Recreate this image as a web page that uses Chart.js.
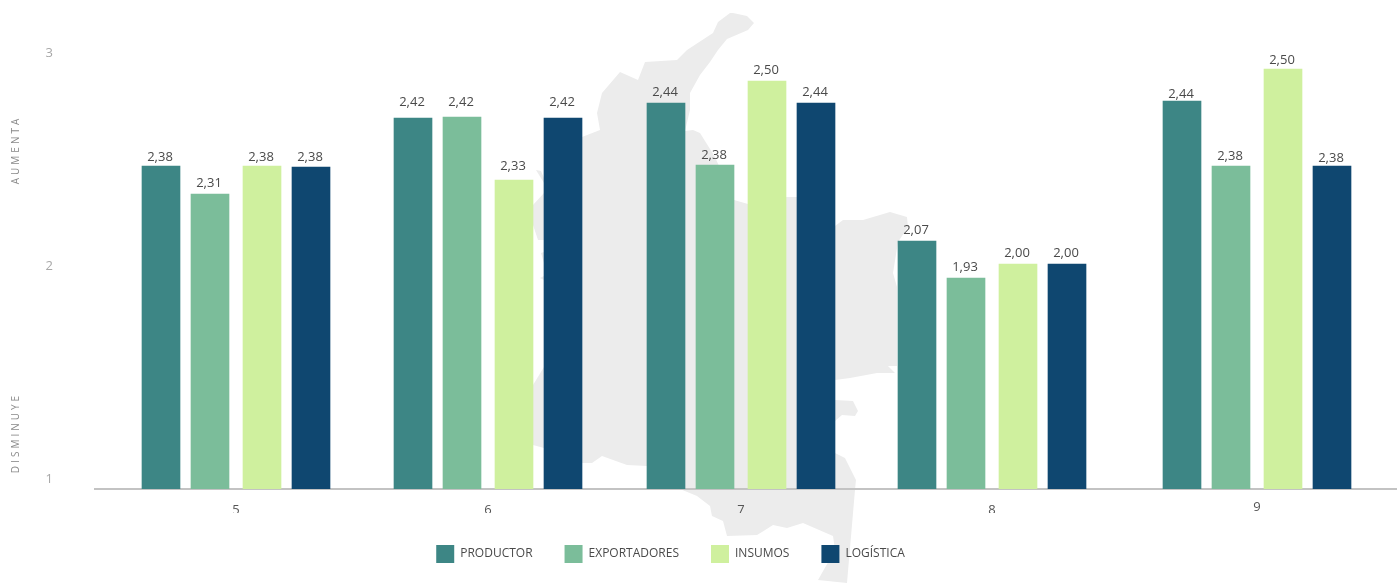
<!DOCTYPE html>
<html>
<head>
<meta charset="utf-8">
<title>Chart</title>
<script src="https://cdn.jsdelivr.net/npm/chart.js@4/dist/chart.umd.js"></script>
<style>
    body { margin: 0; background: #fff; }
    #wrap { position: relative; width: 1397px; height: 583px; overflow: hidden; }
    #map { position: absolute; left: 0; top: 0; width: 1397px; height: 583px; background: #ececec; }
    #chart { position: absolute; left: 0; top: 0; }
</style>
</head>
<body>
<div id="wrap">
    <div id="map"></div>
    <canvas id="chart" width="1397" height="583"></canvas>
</div>
<script>
var categories = ['5', '6', '7', '8', '9'];
var yTicks = [1, 2, 3];
var seriesNames = ['PRODUCTOR', 'EXPORTADORES', 'INSUMOS', 'LOGÍSTICA'];

// bar heights read against the y axis, they do not follow the printed labels
var productor = [2.4695, 2.6948, 2.7653, 2.1174, 2.7746];
var exportadores = [2.3380, 2.6995, 2.4742, 1.9437, 2.4695];
var insumos = [2.4695, 2.4038, 2.8685, 2.0094, 2.9249];
var logistica = [2.4648, 2.6948, 2.7653, 2.0094, 2.4695];

// printed labels
var productorLabels = ['2,38', '2,42', '2,44', '2,07', '2,44'];
var exportadoresLabels = ['2,31', '2,42', '2,38', '1,93', '2,38'];
var insumosLabels = ['2,38', '2,33', '2,50', '2,00', '2,50'];
var logisticaLabels = ['2,38', '2,42', '2,44', '2,00', '2,38'];

var seriesValues = [productor, exportadores, insumos, logistica];
var seriesLabels = [productorLabels, exportadoresLabels, insumosLabels, logisticaLabels];
var colors = ['#3d8685', '#7bbd9a', '#cff09e', '#0f4770'];

// layout only: groups are not evenly spaced in the original (one x unit is 252px)
var groupShift = [0, 0, 1 / 252, 0, 13 / 252];
var barShift = [-75 / 252, -26 / 252, 26 / 252, 75 / 252];
var labelLift = [
    [9, 16, 11, 11, 7],
    [11, 15, 10, 11, 10],
    [9, 14, 11, 11, 9],
    [10, 16, 11, 11, 8]
];

// background silhouette, purely decorative
var mapOutline = [
    [733, 13], [747, 16], [754, 23], [748, 30], [727, 39], [718, 50], [710, 62], [700, 75], [690, 93],
    [690, 110], [685, 131], [693, 130], [700, 133], [715, 157], [734, 200], [748, 204], [786, 197],
    [797, 197], [835, 226], [843, 220], [863, 220], [890, 212], [907, 217], [908, 227], [898, 242],
    [893, 273], [897, 287], [897, 366], [888, 366], [895, 373], [877, 373], [850, 378], [835, 380],
    [835, 400], [853, 401], [858, 411], [855, 416], [842, 415], [835, 421], [835, 453], [845, 458],
    [856, 480], [855, 490], [847, 583], [818, 580], [835, 550], [833, 536], [803, 523], [787, 528],
    [773, 525], [757, 535], [727, 536], [723, 521], [712, 516], [710, 506], [697, 496], [680, 489],
    [647, 466], [627, 465], [602, 456], [592, 463], [582, 463], [560, 450], [544, 448], [533, 445],
    [533, 385], [544, 367], [560, 360], [560, 285], [544, 280], [540, 278], [544, 276], [550, 270],
    [544, 263], [541, 253], [544, 252], [550, 245], [544, 240], [538, 240], [533, 225], [533, 205],
    [544, 193], [550, 185], [544, 183], [536, 170], [541, 171], [544, 178], [560, 160], [582, 137],
    [600, 130], [597, 113], [602, 93], [620, 72], [638, 80], [645, 62], [677, 60], [687, 50], [713, 33],
    [718, 22], [730, 13]
];
document.getElementById('map').style.clipPath = 'polygon(' + mapOutline.map(function(p) {
    return p[0] + 'px ' + p[1] + 'px';
}).join(',') + ')';

var fontName = '"Open Sans", sans-serif';
var groupX = categories.map(function(c, i) {
    return Number(c) + groupShift[i];
});

var datasets = seriesNames.map(function(name, s) {
    return {
        label: name,
        backgroundColor: colors[s],
        borderWidth: 0,
        barThickness: 38,
        grouped: false,
        data: seriesValues[s].map(function(v, i) {
            return { x: groupX[i] + barShift[s], y: v };
        })
    };
});

var barLabels = {
    id: 'barLabels',
    afterDatasetsDraw: function(chart) {
        var ctx = chart.ctx;
        ctx.save();
        ctx.font = '13px ' + fontName;
        ctx.fillStyle = '#4a4a4a';
        ctx.textAlign = 'center';
        ctx.textBaseline = 'middle';
        seriesLabels.forEach(function(labels, s) {
            chart.getDatasetMeta(s).data.forEach(function(bar, i) {
                ctx.fillText(labels[i], bar.x - 1, bar.y - labelLift[s][i]);
            });
        });
        ctx.restore();
    }
};

var sideTitles = {
    id: 'sideTitles',
    afterDraw: function(chart) {
        var ctx = chart.ctx;
        ctx.save();
        ctx.font = '10px ' + fontName;
        ctx.fillStyle = '#8a8a8a';
        ctx.letterSpacing = '3px';
        ctx.textAlign = 'center';
        ctx.textBaseline = 'middle';
        ctx.translate(16, 150);
        ctx.rotate(-Math.PI / 2);
        ctx.fillText('AUMENTA', 0, 0);
        ctx.rotate(Math.PI / 2);
        ctx.translate(0, 283);
        ctx.rotate(-Math.PI / 2);
        ctx.fillText('DISMINUYE', 0, 0);
        ctx.restore();
    }
};

// the legend sits left of the canvas centre in the original
var legendShift = {
    id: 'legendShift',
    afterLayout: function(chart) {
        chart.legend.left -= 28;
        chart.legend.right -= 28;
    }
};

new Chart(document.getElementById('chart'), {
    type: 'bar',
    data: { datasets: datasets },
    plugins: [barLabels, sideTitles, legendShift],
    options: {
        responsive: false,
        animation: false,
        layout: { padding: { top: 20, bottom: 10 } },
        plugins: {
            tooltip: { enabled: false },
            legend: {
                position: 'bottom',
                labels: {
                    boxWidth: 18,
                    boxHeight: 18,
                    padding: 32,
                    color: '#4a4a4a',
                    font: { family: fontName, size: 12 }
                }
            }
        },
        scales: {
            x: {
                type: 'linear',
                offset: false,
                min: 5 - 141 / 252,
                max: 5 + 1161 / 252,
                grid: { display: false, drawTicks: false, offset: false },
                border: { color: '#c3c3c3', width: 2 },
                afterBuildTicks: function(axis) {
                    axis.ticks = groupX.map(function(v) {
                        return { value: v };
                    });
                },
                afterFit: function(axis) {
                    axis.height = 24;
                },
                ticks: {
                    autoSkip: false,
                    maxRotation: 0,
                    padding: 13,
                    color: '#555555',
                    font: function(ctx) {
                        return { family: fontName, size: 13, lineHeight: ctx.index === 4 ? 0.74 : 1.2 };
                    },
                    callback: function(value, index) {
                        return categories[index];
                    }
                }
            },
            y: {
                min: 1 - 10 / 213,
                max: 1 + 459 / 213,
                grid: { display: false, drawTicks: false },
                border: { display: false },
                afterBuildTicks: function(axis) {
                    axis.ticks = yTicks.map(function(v) {
                        return { value: v };
                    });
                },
                afterFit: function(axis) {
                    axis.width = 95;
                    // tick padding would otherwise push the chart area down
                    axis.paddingTop = 0;
                    axis.paddingBottom = 0;
                },
                ticks: {
                    padding: 42,
                    color: '#a8a8a8',
                    font: { family: fontName, size: 13 }
                }
            }
        }
    }
});
</script>
</body>
</html>
